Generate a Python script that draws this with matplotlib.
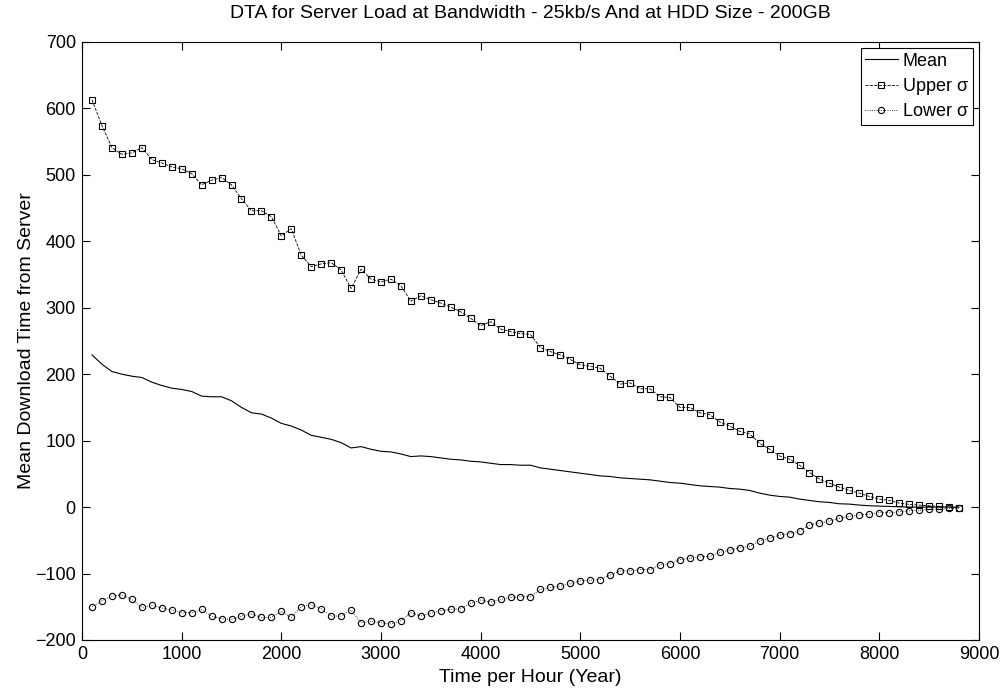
import matplotlib.pyplot as plt
import numpy as np

plt.rcParams['font.family'] = ['Liberation Sans', 'DejaVu Sans']

# time axis: one point every 100 hours
hours = np.arange(100, 8900, 100)

mean_time = [229, 215, 204, 200, 197, 195, 188, 183, 179, 177,
             174, 167, 166, 166, 160, 150, 142, 140, 134, 126,
             122, 116, 108, 105, 102, 97, 89, 91, 87, 84,
             83, 80, 76, 77, 76, 74, 72, 71, 69, 68,
             66, 64, 64, 63, 63, 59, 57, 55, 53, 51,
             49, 47, 46, 44, 43, 42, 41, 39, 37, 36,
             34, 32, 31, 30, 28, 27, 25, 21, 18, 16,
             15, 12, 10, 8, 7, 5, 4.5, 3, 2, 1.5,
             1, 0.5, 0, 0, 0, 0, 0, 0]

upper_sigma = [613, 574, 541, 531, 533, 541, 523, 518, 512, 509,
               502, 485, 492, 496, 485, 464, 446, 446, 437, 408,
               419, 379, 362, 366, 368, 357, 329, 358, 343, 339,
               343, 333, 310, 318, 312, 307, 301, 294, 284, 273,
               279, 268, 264, 261, 260, 240, 234, 229, 222, 214,
               212, 209, 197, 185, 187, 178, 178, 166, 165, 150,
               150, 142, 139, 128, 122, 114, 110, 96, 87, 77,
               72, 63, 52, 42, 36, 30, 25, 21, 16, 12,
               10, 6, 4, 3, 2, 1, 0, -1]

lower_sigma = [-150, -141, -134, -132, -139, -151, -148, -152, -155, -159,
               -159, -154, -164, -168, -169, -164, -161, -166, -166, -157,
               -166, -150, -147, -153, -164, -164, -155, -174, -172, -174,
               -176, -171, -159, -164, -160, -156, -154, -153, -145, -140,
               -143, -139, -136, -135, -135, -124, -121, -119, -115, -111,
               -110, -109, -102, -96, -96, -94, -94, -87, -85, -79,
               -77, -75, -74, -68, -65, -61, -59, -51, -47, -42,
               -40, -36, -27, -24, -21, -17, -14, -12, -10.5, -8.5,
               -8.5, -7, -5.5, -5, -3.5, -3, -2, -2]

fig = plt.figure(figsize=(10.04, 6.88), dpi=100)
ax = fig.add_axes([0.0817, 0.0698, 0.8933, 0.8692])

ax.plot(hours, mean_time, '-', color='black', linewidth=0.8, label='Mean')
ax.plot(hours, upper_sigma, '--s', color='black', linewidth=0.6,
        markersize=4.5, markerfacecolor='none', markeredgewidth=0.8, label='Upper σ')
ax.plot(hours, lower_sigma, ':o', color='black', linewidth=0.6,
        markersize=4.5, markerfacecolor='none', markeredgewidth=0.8, label='Lower σ')

ax.set_xlim(0, 9000)
ax.set_ylim(-200, 700)
ax.set_xticks(np.arange(0, 9001, 1000))
ax.set_yticks(np.arange(-200, 701, 100))
ax.tick_params(direction='in', top=True, right=True, labelsize=13, length=6, pad=4.5)

ax.set_xlabel('Time per Hour (Year)', fontsize=14, labelpad=4)
ax.set_ylabel('Mean Download Time from Server', fontsize=14, labelpad=0)
ax.set_title('DTA for Server Load at Bandwidth - 25kb/s And at HDD Size - 200GB',
             fontsize=14, pad=17)

leg = ax.legend(loc='upper right', fontsize=13, fancybox=False, framealpha=1,
                edgecolor='black', borderaxespad=0.35, handlelength=1.8,
                handletextpad=0.3, labelspacing=0.45, borderpad=0.25)
leg.get_frame().set_linewidth(0.8)

plt.savefig('out.png', dpi=100)
